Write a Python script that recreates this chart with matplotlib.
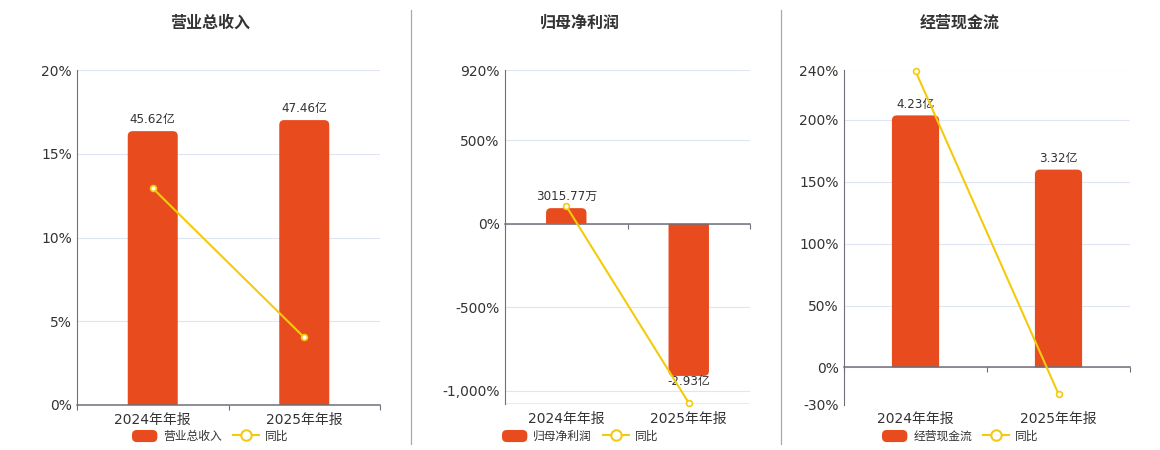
import matplotlib
matplotlib.use('Agg')
import matplotlib.pyplot as plt
from matplotlib.path import Path
from matplotlib.patches import PathPatch, FancyBboxPatch, Rectangle
from matplotlib.lines import Line2D
from matplotlib.legend_handler import HandlerPatch

plt.rcParams['font.family'] = ['DejaVu Sans', 'Noto Sans CJK SC']

# ---------------- data ----------------
categories = ['2024年年报', '2025年年报']
titles = ['营业总收入', '归母净利润', '经营现金流']
bar_names = ['营业总收入', '归母净利润', '经营现金流']
line_name = '同比'
revenue = [45.62, 47.46]          # 亿
net_profit = [0.301577, -2.93]    # 亿
cash_flow = [4.23, 3.32]          # 亿
revenue_labels = ['45.62亿', '47.46亿']
net_profit_labels = ['3015.77万', '-2.93亿']
cash_flow_labels = ['4.23亿', '3.32亿']
revenue_yoy = [12.94, 4.03]       # %
net_profit_yoy = [105.7, -1071.5]
cash_flow_yoy = [239.5, -21.5]
ticks_1 = [0, 5, 10, 15, 20]
ticks_2 = [-1000, -500, 0, 500, 920]
ticks_3 = [-30, 0, 50, 100, 150, 200, 240]
tick_labels_1 = ['0%', '5%', '10%', '15%', '20%']
tick_labels_2 = ['-1,000%', '-500%', '0%', '500%', '920%']
tick_labels_3 = ['-30%', '0%', '50%', '100%', '150%', '200%', '240%']

# ---------------- style / layout ----------------
W, H = 1160, 450
BAR_COLOR = '#E84C1E'
LINE_COLOR = '#F4CB0C'
TEXT = '#333333'
AXIS = '#6E7079'
GRID = '#E0E6F1'

panels = [
    dict(bars=revenue, labels=revenue_labels, yoy=revenue_yoy, ticks=ticks_1, tlabels=tick_labels_1,
         box=(77, 70, 380, 405), ylim=(0, 20), k=0.3584, cx=210),
    dict(bars=net_profit, labels=net_profit_labels, yoy=net_profit_yoy, ticks=ticks_2, tlabels=tick_labels_2,
         box=(505, 70, 750, 404), ylim=(-1078, 920), k=310.6, cx=580),
    dict(bars=cash_flow, labels=cash_flow_labels, yoy=cash_flow_yoy, ticks=ticks_3, tlabels=tick_labels_3,
         box=(844, 70.5, 1130, 404.5), ylim=(-30, 240), k=48.16, cx=960),
]

fig = plt.figure(figsize=(W / 100, H / 100), dpi=100)
fig.patch.set_facecolor('white')


def rounded_path(x0, w, h, rx, ry):
    sgn = 1 if h >= 0 else -1
    ry = min(ry, abs(h)) * sgn
    yt = h
    verts = [(x0, 0), (x0, yt - ry), (x0, yt), (x0 + rx, yt), (x0 + w - rx, yt),
             (x0 + w, yt), (x0 + w, yt - ry), (x0 + w, 0), (x0, 0)]
    codes = [Path.MOVETO, Path.LINETO, Path.CURVE3, Path.CURVE3, Path.LINETO,
             Path.CURVE3, Path.CURVE3, Path.LINETO, Path.CLOSEPOLY]
    return Path(verts, codes)


def round_handle(legend, orig_handle, xdescent, ydescent, width, height, fontsize):
    return FancyBboxPatch((-xdescent, -ydescent), width, height,
                          boxstyle='round,pad=0,rounding_size=3.5')


def overlay_axes(rect, name, z):
    a = fig.add_axes(rect, label=name, zorder=z)
    a.patch.set_visible(False)
    a.set_xlim(-0.5, 1.5)
    a.set_yticks([])
    for s in a.spines.values():
        s.set_visible(False)
    return a


x = [0, 1]
for i, p in enumerate(panels):
    l, t, r, b = p['box']
    rect = [l / W, 1 - b / H, (r - l) / W, (b - t) / H]
    ax = fig.add_axes(rect, label=f'main{i}', zorder=1)
    ymin, ymax = p['ylim']
    ax.set_xlim(-0.5, 1.5)
    ax.set_ylim(ymin, ymax)
    ax.set_yticks(p['ticks'], p['tlabels'])
    ax.set_xticks(x, categories)
    ax.tick_params(axis='y', length=0, pad=3.8, labelsize=10, labelcolor=TEXT)
    ax.tick_params(axis='x', length=0, pad=5.5, labelsize=10, labelcolor=TEXT)
    ax.yaxis.grid(True, color=GRID, lw=0.8)
    ax.set_axisbelow(True)
    for s in ['top', 'right', 'bottom']:
        ax.spines[s].set_visible(False)
    ax.spines['left'].set_color(AXIS)
    ax.spines['left'].set_linewidth(0.8)
    if ymin not in p['ticks']:
        ax.axhline(ymin, color=GRID, lw=1.2)

    # bars on a hidden overlay axis with its own scale
    axb = overlay_axes(rect, f'bars{i}', 2)
    axb.set_xticks([])
    axb.set_ylim(ymin / p['k'], ymax / p['k'])
    bars = axb.bar(x, p['bars'], width=0.33, color=BAR_COLOR)
    wpx = r - l
    hpx = b - t
    rx = 5 * 2.0 / wpx
    ry = 5 * (ymax - ymin) / p['k'] / hpx
    for bar in bars:
        bar.set_visible(False)
        path = rounded_path(bar.get_x(), bar.get_width(), bar.get_height(), rx, ry)
        axb.add_patch(PathPatch(path, facecolor=BAR_COLOR, edgecolor='none'))
    for xi, v, lab in zip(x, p['bars'], p['labels']):
        if v >= 0:
            axb.annotate(lab, (xi, v), xytext=(0, 3.5), textcoords='offset points',
                         ha='center', va='bottom', fontsize=8.6, color=TEXT)
        else:
            axb.annotate(lab, (xi, v), xytext=(0, 1), textcoords='offset points',
                         ha='center', va='top', fontsize=8.6, color=TEXT)

    # zero axis line + yoy line on top overlay
    axl = overlay_axes(rect, f'line{i}', 3)
    axl.set_ylim(ymin, ymax)
    axl.spines['bottom'].set_visible(True)
    axl.spines['bottom'].set_position(('data', 0))
    axl.spines['bottom'].set_color(AXIS)
    axl.spines['bottom'].set_linewidth(1.1)
    axl.xaxis.set_ticks_position('bottom')
    axl.set_xticks([-0.5, 0.5, 1.5], ['', '', ''])
    axl.tick_params(axis='x', length=3.5, width=0.8, color=AXIS, direction='out')
    axl.plot(x, p['yoy'], color=LINE_COLOR, lw=1.5, marker='o', markersize=4.2,
             markerfacecolor='white', markeredgecolor=LINE_COLOR, markeredgewidth=1.2,
             clip_on=False, zorder=5)

    # title
    fig.text(p['cx'] / W, 1 - 23 / H, titles[i], ha='center', va='center',
             fontsize=11.5, fontweight='bold', color=TEXT)

    # legend
    h_bar = Rectangle((0, 0), 1, 1, facecolor=BAR_COLOR, edgecolor='none')
    h_line = Line2D([], [], color=LINE_COLOR, lw=1.5, marker='o', markersize=7.5,
                    markerfacecolor='white', markeredgecolor=LINE_COLOR, markeredgewidth=1.5)
    fig.legend([h_bar, h_line], [bar_names[i], line_name], loc='center',
               bbox_to_anchor=(p['cx'] / W, 1 - 436.5 / H), ncol=2, frameon=False,
               fontsize=8.5, handlelength=2.15, handleheight=1.2, handletextpad=0.5,
               columnspacing=0.95, borderpad=0, borderaxespad=0, labelcolor=TEXT,
               handler_map={Rectangle: HandlerPatch(patch_func=round_handle)})

# separators
for sx in [410.5, 780.5]:
    fig.add_artist(Line2D([sx / W, sx / W], [1 - 10 / H, 1 - 444 / H], color='#AAAAAA', lw=0.9))

fig.savefig('out.png', dpi=100, facecolor='white')
